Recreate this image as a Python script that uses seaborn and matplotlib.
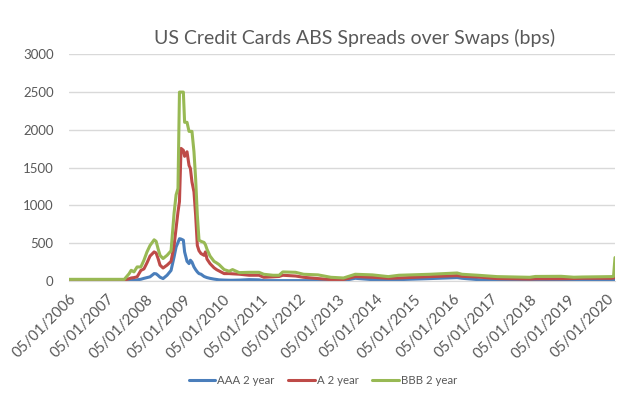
import matplotlib
matplotlib.use("Agg")
import matplotlib.pyplot as plt
import matplotlib.dates as mdates
import seaborn as sns
import pandas as pd

# spreads over swaps (bps)
dates = [
    "2006-01-05", "2007-06-15", "2007-07-30", "2007-08-20", "2007-09-15",
    "2007-10-15", "2007-11-20", "2007-12-19", "2008-01-17", "2008-02-15",
    "2008-03-25", "2008-04-13", "2008-05-01", "2008-05-20", "2008-06-18",
    "2008-07-26", "2008-09-02", "2008-10-01", "2008-10-20", "2008-11-07",
    "2008-11-21", "2008-12-06", "2008-12-28", "2009-01-09", "2009-02-01",
    "2009-02-20", "2009-03-05", "2009-03-20", "2009-04-08", "2009-04-24",
    "2009-05-10", "2009-05-26", "2009-06-14", "2009-07-13", "2009-07-26",
    "2009-08-10", "2009-09-08", "2009-10-16", "2009-11-10", "2009-12-03",
    "2010-01-20", "2010-03-09", "2010-04-10", "2010-06-12", "2010-09-15",
    "2010-12-18", "2011-02-01", "2011-05-01", "2011-06-27", "2011-08-01",
    "2011-12-01", "2012-02-15", "2012-07-01", "2012-11-01", "2013-03-01",
    "2013-06-20", "2013-12-01", "2014-05-01", "2014-08-10", "2015-06-01",
    "2016-02-15", "2016-04-01", "2016-09-01", "2017-03-01", "2018-01-05",
    "2018-03-01", "2018-11-01", "2019-03-01", "2019-05-20", "2020-02-15",
    "2020-03-13", "2020-03-27",
]
aaa = [
    3, 3, 5, 5, 8, 15, 23, 35, 45, 55,
    98, 95, 75, 50, 32, 76, 140, 320, 450, 510,
    560, 555, 540, 385, 260, 230, 275, 250, 186, 150,
    120, 98, 90, 60, 53, 45, 35, 25, 20, 15,
    12, 10, 10, 12, 18, 15, 5, 5, 5, 5,
    5, 5, 5, 5, 5, 36, 18, 18, 18, 32,
    45, 36, 18, 5, 5, 5, 5, 8, 10, 10,
    12, 20,
]
a = [
    12, 12, 30, 40, 45, 55, 140, 160, 240, 330,
    385, 370, 300, 210, 172, 210, 260, 470, 700, 915,
    1050, 1755, 1730, 1650, 1710, 1530, 1490, 1310, 1180, 870,
    470, 400, 363, 340, 385, 290, 230, 175, 150, 133,
    98, 98, 95, 90, 76, 76, 49, 55, 60, 76,
    66, 49, 32, 18, 20, 58, 49, 36, 40, 58,
    71, 62, 53, 32, 25, 28, 30, 32, 36, 36,
    40, 50,
]
bbb = [
    22, 22, 95, 142, 120, 186, 186, 275, 385, 470,
    545, 525, 430, 340, 297, 340, 400, 900, 1140, 1225,
    2500, 2500, 2500, 2100, 2100, 1980, 1980, 1980, 1710, 1350,
    870, 540, 525, 510, 480, 420, 330, 260, 239, 217,
    151, 129, 151, 111, 115, 115, 89, 76, 76, 120,
    115, 89, 81, 49, 40, 89, 81, 58, 76, 89,
    106, 89, 76, 58, 49, 60, 62, 50, 53, 58,
    60, 310,
]
series = ["AAA 2 year", "A 2 year", "BBB 2 year"]
colors = ["#4A7EBB", "#BE4B48", "#98B954"]
tick_years = list(range(2006, 2021))

df = pd.DataFrame({"date": pd.to_datetime(dates), series[0]: aaa,
                   series[1]: a, series[2]: bbb})
df = df.melt(id_vars="date", var_name="series", value_name="spread")

sns.set_style("white")
plt.rcParams["font.family"] = ["Lato", "DejaVu Sans"]
txt = "#595959"

fig = plt.figure(figsize=(6.4, 3.99), dpi=100)
ax = fig.add_axes([69 / 640, 1 - 281 / 399, (615 - 69) / 640, (281 - 54.3) / 399])

sns.lineplot(data=df, x="date", y="spread", hue="series", hue_order=series,
             palette=colors, linewidth=2.2, ax=ax, legend=True)

ax.set_ylim(0, 3000)
ax.set_yticks(range(0, 3001, 500))
ax.set_xlim(pd.Timestamp(dates[0]), pd.Timestamp(dates[-1]))
ax.set_xticks([pd.Timestamp(f"{y}-01-05") for y in tick_years])
ax.xaxis.set_major_formatter(mdates.DateFormatter("%d/%m/%Y"))
ax.set_xlabel("")
ax.set_ylabel("")
ax.grid(axis="y", color="#D9D9D9", linewidth=1)
ax.set_axisbelow(True)
for s in ["top", "right", "left"]:
    ax.spines[s].set_visible(False)
ax.spines["bottom"].set_color("#D9D9D9")
ax.tick_params(axis="y", length=0, labelsize=9.5, labelcolor=txt, pad=11)
ax.tick_params(axis="x", length=4, color="#D9D9D9", labelsize=10.8,
               labelcolor=txt, pad=4)
plt.setp(ax.get_xticklabels(), rotation=45, ha="right", rotation_mode="anchor")

handles, labels = ax.get_legend_handles_labels()
ax.get_legend().remove()
fig.legend(handles, labels, loc="center", ncol=3, frameon=False,
           bbox_to_anchor=(323 / 640, 1 - 380 / 399), fontsize=8.2,
           handlelength=2.3, handletextpad=0.2, columnspacing=1.2,
           labelcolor=txt)

fig.text(355 / 640, 1 - 38 / 399, "US Credit Cards ABS Spreads over Swaps (bps)",
         ha="center", va="center", fontsize=14, color=txt)

fig.savefig("out.png", dpi=100)
